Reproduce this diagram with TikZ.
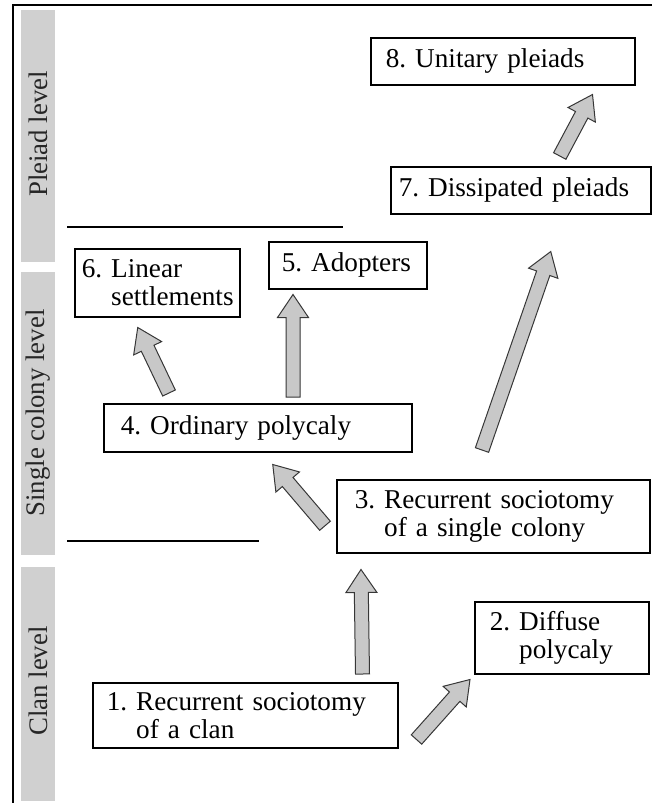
\documentclass[tikz,border=0pt]{standalone}
\usepackage{fontspec}
\setmainfont{Liberation Serif}
\usetikzlibrary{calc}

\definecolor{bargray}{RGB}{208,208,208}
\definecolor{arrowgray}{RGB}{200,200,200}
\definecolor{edgegray}{RGB}{55,55,55}

\tikzset{
  stage/.style={draw=black, line width=0.75pt, anchor=north west, align=left, inner ysep=0pt, font=\fontsize{13.6}{14}\selectfont},
  levelbar/.style={fill=bargray},
  levelname/.style={rotate=90, text=black!85, font=\fontsize{13.4}{14}\selectfont},
  rule/.style={line width=0.6pt},
  fatarrow/.style={fill=arrowgray, draw=edgegray, line width=0.5pt, line join=miter},
}

\newcommand{\fatarrow}[2]{%
  \path (#1) coordinate (fa-a) (#2) coordinate (fa-b);
  \path ($(fa-b)!11.5pt!(fa-a)$) coordinate (fa-h);
  \draw[fatarrow] ($(fa-a)!3.5pt!90:(fa-b)$) -- ($(fa-h)!3.5pt!90:(fa-b)$)
    -- ($(fa-h)!7.75pt!90:(fa-b)$) -- (fa-b) -- ($(fa-h)!7.75pt!-90:(fa-b)$)
    -- ($(fa-h)!3.5pt!-90:(fa-b)$) -- ($(fa-a)!3.5pt!-90:(fa-b)$) -- cycle;}

\begin{document}
\begin{tikzpicture}[x=0.5pt, y=-0.5pt]
    \useasboundingbox (0,0) rectangle (652,803);
    \draw[line width=0.9pt] (13,803) -- (13,5) -- (652,5);
    \fill[levelbar] (21,10) rectangle (55,262);
    \fill[levelbar] (21,272) rectangle (55,555);
    \fill[levelbar] (21,567) rectangle (55,801);
    \node[levelname] (pleiad) at (38,134) {Pleiad level};
    \node[levelname] (colony) at (38,413) {Single colony level};
    \node[levelname] (clan) at (38,681) {Clan level};
    \draw[rule] (67,227) -- (343,227);
    \draw[rule] (67,541) -- (259,541);

    \node[stage, text width=117pt, inner xsep=7.5pt, minimum height=23.5pt] (s8) at (370,37) {8.~Unitary pleiads};
    \node[stage, text width=122pt, inner xsep=4pt, minimum height=23.5pt] (s7) at (390,166) {7.~Dissipated pleiads};
    \node[stage, text width=75.5pt, inner xsep=3.5pt, minimum height=34pt] (s6) at (74,248) {6.~Linear\\\phantom{6.~}settlements};
    \node[stage, text width=66pt, inner xsep=6.5pt, minimum height=23.5pt] (s5) at (268,241) {5.~Adopters};
    \node[stage, text width=137pt, inner xsep=8.5pt, minimum height=24pt] (s4) at (103,403) {4.~Ordinary polycaly};
    \node[stage, text width=138.5pt, inner xsep=9pt, minimum height=36.5pt] (s3) at (336,479) {3.~Recurrent sociotomy\\\phantom{3.~}of a single colony};
    \node[stage, text width=72pt, inner xsep=7.5pt, minimum height=36pt] (s2) at (474,601) {2.~Diffuse\\\phantom{2.~}polycaly};
    \node[stage, text width=138.5pt, inner xsep=7pt, minimum height=32.5pt] (s1) at (92,682) {1.~Recurrent sociotomy\\\phantom{1.~}of a clan};

    \fatarrow{$(s1.north east)+(-36,-8)$}{$(s3.south west)+(25,16)$}
    \fatarrow{$(s1.south east)+(18,-9)$}{$(s2.south west)+(-4,5)$}
    \fatarrow{$(s3.west)+(-11,9.5)$}{$(s4.south)+(15,12)$}
    \fatarrow{$(s3.north west)+(146,-29)$}{$(s7.south)+(30,37)$}
    \fatarrow{$(s7.north)+(39,-10)$}{$(s8.south east)+(-43,9)$}
    \fatarrow{$(s4.north west)+(190,-6)$}{$(s5.south west)+(25,5)$}
    \fatarrow{$(s4.north west)+(66,-10)$}{$(s6.south)+(-19.5,10)$}
\end{tikzpicture}
\end{document}
